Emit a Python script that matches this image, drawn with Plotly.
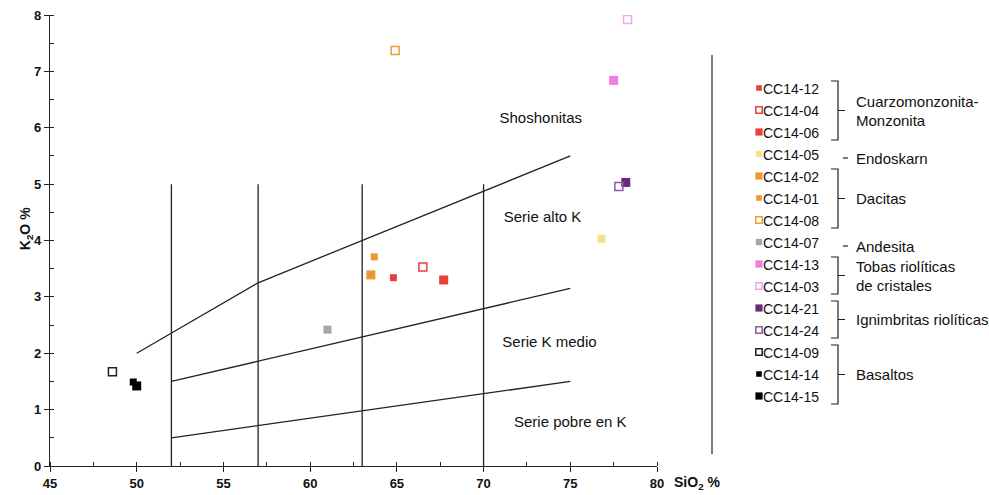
import plotly.graph_objects as go

# --- Sample analyses (SiO2 vs K2O, wt%) ---
samples = ["CC14-12", "CC14-04", "CC14-06", "CC14-05", "CC14-02", "CC14-01", "CC14-08",
           "CC14-07", "CC14-13", "CC14-03", "CC14-21", "CC14-24", "CC14-09", "CC14-14", "CC14-15"]
sio2 = [64.8, 66.5, 67.7, 76.8, 63.5, 63.7, 64.9, 61.0, 77.5, 78.3, 78.2, 77.8, 48.6, 49.8, 50.0]
k2o = [3.34, 3.53, 3.30, 4.03, 3.39, 3.71, 7.37, 2.42, 6.84, 7.92, 5.03, 4.96, 1.67, 1.49, 1.42]

# marker style per sample: colour, filled?, size
colors = ["#e8403a", "#e8403a", "#e8403a", "#f7e08a", "#f0962e", "#f0962e", "#f0a030",
          "#a6a6a6", "#ee7fdc", "#f4a6ec", "#6b2a7c", "#8a5a9e", "#222222", "#000000", "#000000"]
filled = [True, False, True, True, True, True, False, True, True, False, True, False, False, True, True]
sizes = [7, 8, 9, 8, 9, 7, 8, 8, 9, 8, 9, 8, 8, 7, 9]

# rock groups shown with brackets: (label lines, first sample index, last sample index)
groups = [(["Cuarzomonzonita-", "Monzonita"], 0, 2), (["Endoskarn"], 3, 3),
          (["Dacitas"], 4, 6), (["Andesita"], 7, 7),
          (["Tobas riolíticas", "de cristales"], 8, 9),
          (["Ignimbritas riolíticas"], 10, 11), (["Basaltos"], 12, 14)]

# --- Peccerillo & Taylor field boundaries ---
sho_x, sho_y = [50, 57, 75], [2.0, 3.25, 5.5]
hik_x, hik_y = [52, 75], [1.5, 3.15]
lok_x, lok_y = [52, 75], [0.5, 1.5]
div_x = [52, 57, 63, 70]
div_top = 5

field_names = ["Shoshonitas", "Serie alto K", "Serie K medio", "Serie pobre en K"]
field_x = [73.3, 73.4, 73.8, 75.0]
field_y = [6.15, 4.4, 2.17, 0.75]

FONT = "Liberation Sans, Arial, Helvetica, sans-serif"
LINE = "#222222"
TXT = "#111111"

fig = go.Figure()

for xs, ys in [(sho_x, sho_y), (hik_x, hik_y), (lok_x, lok_y)]:
    fig.add_trace(go.Scatter(x=xs, y=ys, mode="lines", line=dict(color=LINE, width=1.3),
                             showlegend=False, hoverinfo="skip"))
for dx in div_x:
    fig.add_trace(go.Scatter(x=[dx, dx], y=[0, div_top], mode="lines",
                             line=dict(color=LINE, width=1.3), showlegend=False, hoverinfo="skip"))


def marker_style(i, scale=1.0):
    if filled[i]:
        return dict(symbol="square", size=sizes[i] * scale, color=colors[i],
                    line=dict(width=0))
    return dict(symbol="square-open", size=sizes[i] * scale, color=colors[i],
                line=dict(width=1.5))


for i, name in enumerate(samples):
    fig.add_trace(go.Scatter(x=[sio2[i]], y=[k2o[i]], mode="markers", name=name,
                             marker=marker_style(i), showlegend=False))

fig.add_trace(go.Scatter(x=field_x, y=field_y, mode="text", text=field_names,
                         textfont=dict(family=FONT, size=15, color=TXT),
                         showlegend=False, hoverinfo="skip"))

# --- custom legend drawn on a pixel-scaled side axis ---
leg_top, leg_step = 88, 22.0
leg_y = [leg_top + leg_step * k for k in range(len(samples))]
mk_x = 759
for i, name in enumerate(samples):
    fig.add_trace(go.Scatter(x=[mk_x], y=[leg_y[i]], mode="markers", xaxis="x2", yaxis="y2",
                             marker=marker_style(i, 0.8), showlegend=False, hoverinfo="skip"))
fig.add_trace(go.Scatter(x=[mk_x + 4] * len(samples), y=[y + 2 for y in leg_y], mode="text",
                         text=samples, textposition="middle right", xaxis="x2", yaxis="y2",
                         textfont=dict(family=FONT, size=14, color=TXT),
                         showlegend=False, hoverinfo="skip"))

shapes = [dict(type="line", xref="x2", yref="y2", x0=712, x1=712, y0=55, y1=454,
               line=dict(color=LINE, width=1.2))]
annotations = []
br_x = 838
for lines, a, b in groups:
    if a == b:
        ym = leg_y[a] + 4
        shapes.append(dict(type="line", xref="x2", yref="y2", x0=843, x1=848, y0=ym, y1=ym,
                           line=dict(color=LINE, width=1.2)))
        text_y = [ym]
    else:
        y0, y1 = leg_y[a] - 7, leg_y[b] + 8
        ym = (y0 + y1) / 2
        path = (f"M {br_x - 7} {y0} L {br_x} {y0} L {br_x} {y1} L {br_x - 7} {y1} "
                f"M {br_x} {ym} L {br_x + 7} {ym}")
        shapes.append(dict(type="path", xref="x2", yref="y2", path=path,
                           line=dict(color=LINE, width=1.2)))
        n = len(lines)
        text_y = [ym + (k - (n - 1) / 2) * 19 for k in range(n)]
    for t, ty in zip(lines, text_y):
        annotations.append(dict(x=854, y=ty, xref="x2", yref="y2", text=t, showarrow=False,
                                xanchor="left", yanchor="middle",
                                font=dict(family=FONT, size=15, color=TXT)))

W, H = 989, 495
ml, mr, mt, mb = 50, 10, 15, 29
pw = W - ml - mr
dom_end = (657 - ml) / pw

# axis titles
annotations.append(dict(x=dom_end, y=0, xref="paper", yref="paper",
                        text="<b>SiO<sub>2</sub> %</b>", showarrow=False,
                        xanchor="left", yanchor="middle", xshift=15, yshift=-17,
                        font=dict(family=FONT, size=14, color=TXT)))
annotations.append(dict(x=0, y=4.2, xref="paper", yref="y",
                        text="<b>K<sub>2</sub>O %</b>", showarrow=False, textangle=-90,
                        xanchor="center", yanchor="middle", xshift=-24,
                        font=dict(family=FONT, size=14, color=TXT)))

axis_common = dict(showgrid=False, zeroline=False, showline=True, linecolor=LINE, linewidth=1.3,
                   ticks="outside", ticklen=5, tickcolor=LINE, tickwidth=1.3, automargin=False,
                   tickfont=dict(family=FONT, size=13, color=TXT, weight="bold"))

fig.update_layout(
    template="none",
    width=W, height=H, autosize=False, margin=dict(l=ml, r=mr, t=mt, b=mb, pad=0),
    paper_bgcolor="white", plot_bgcolor="white",
    xaxis=dict(domain=[0, dom_end], range=[45, 80], tick0=45, dtick=5,
               minor=dict(dtick=2.5, ticks="inside", ticklen=4, tickcolor=LINE), **axis_common),
    yaxis=dict(range=[0, 8], tick0=0, dtick=1,
               minor=dict(dtick=0.5, ticks="inside", ticklen=4, tickcolor=LINE),
               **axis_common),
    xaxis2=dict(domain=[dom_end, 1], range=[657, W - mr], visible=False, anchor="y2",
                automargin=False),
    yaxis2=dict(domain=[0, 1], range=[H - mb, mt], visible=False, anchor="x2",
                automargin=False),
    shapes=shapes, annotations=annotations, showlegend=False,
)

fig.write_html("out.html")
